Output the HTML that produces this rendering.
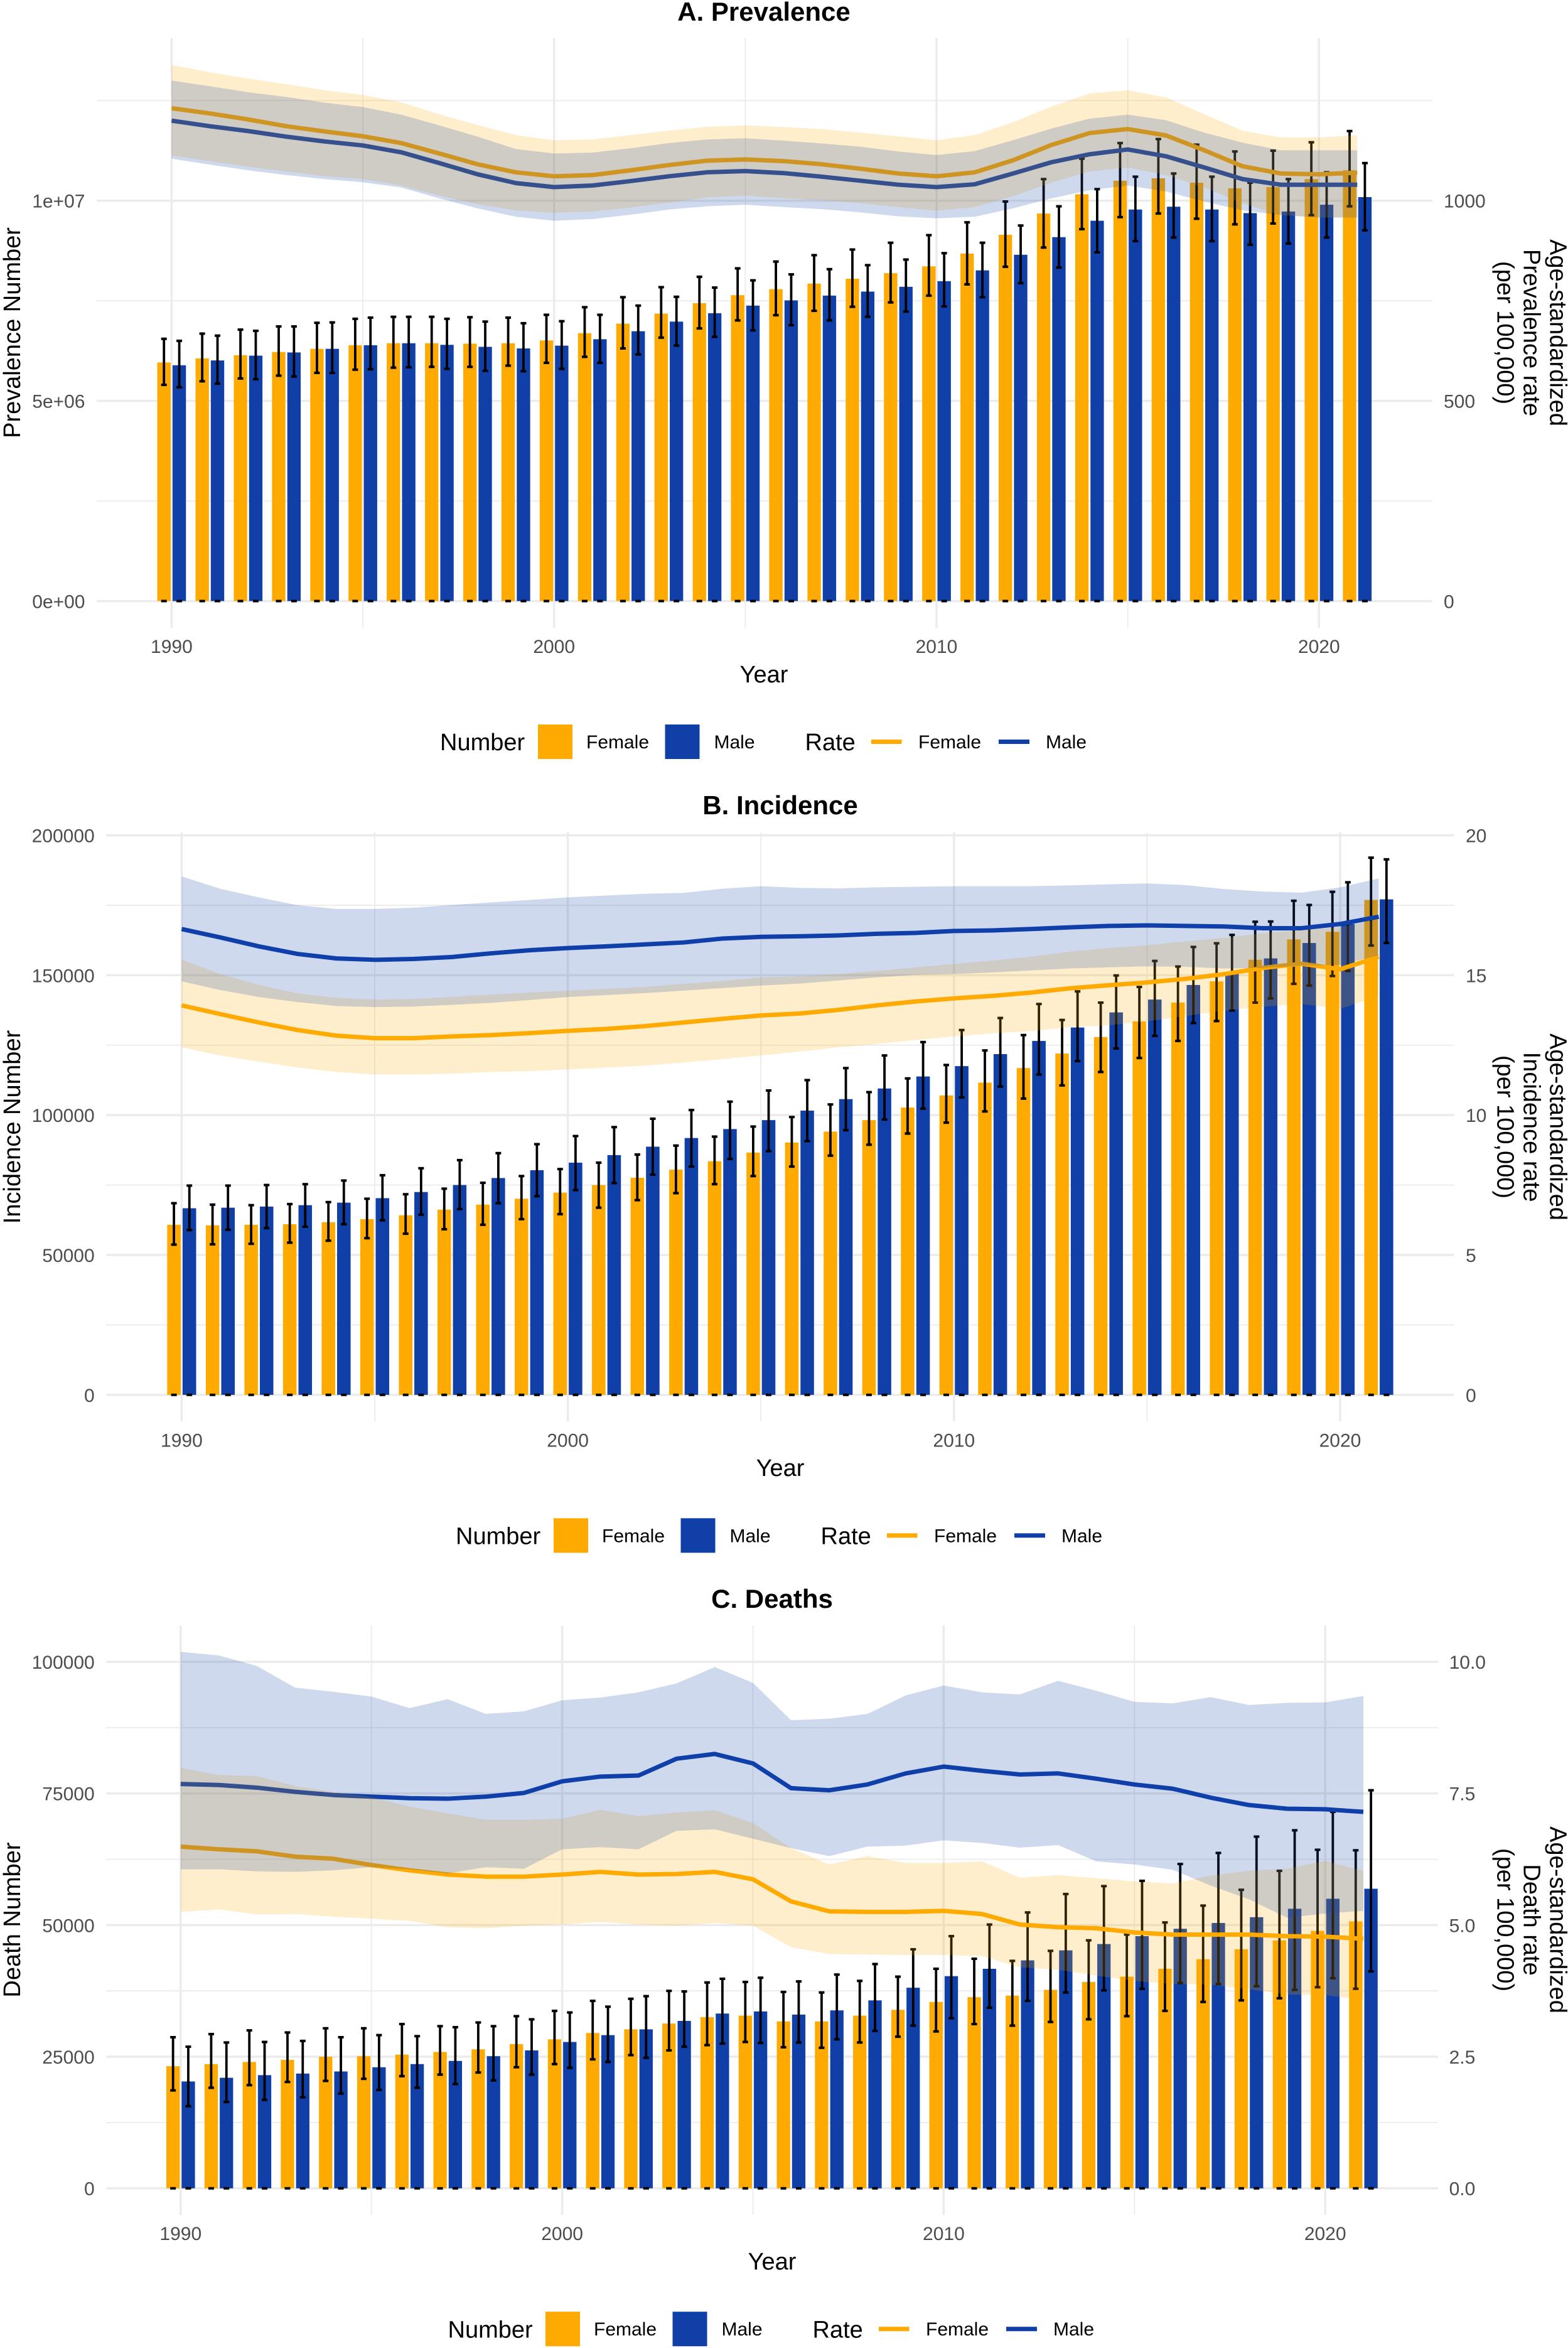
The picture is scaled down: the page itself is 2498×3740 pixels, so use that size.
<!DOCTYPE html>
<html>
<head>
<meta charset="utf-8">
<title>Prevalence, Incidence and Deaths</title>
<style>
html,body{margin:0;padding:0;background:#fff;}
svg{display:block;font-family:"Liberation Sans",Arial,sans-serif;}
.title{font-size:42px;font-weight:bold;fill:#000;text-anchor:middle;}
.axt{font-size:38px;fill:#000;text-anchor:middle;}
.lgt{font-size:38px;fill:#000;}
.lgl{font-size:30px;fill:#000;}
.tick{font-size:30px;fill:#4d4d4d;}
</style>
</head>
<body>
<svg id="chart" xmlns="http://www.w3.org/2000/svg" width="2498" height="3740" viewBox="0 0 2498 3740">
<rect x="0" y="0" width="2498" height="3740" fill="#fff"/>
<g id="panel-a"></g>
<g id="panel-b"></g>
<g id="panel-c"></g>

<text class="title" x="1217" y="33">A. Prevalence</text>
<text class="axt" transform="translate(32,530) rotate(-90)">Prevalence Number</text>
<text class="axt" transform="translate(2469.5,530) rotate(90)">Age-standardized</text>
<text class="axt" transform="translate(2427.5,530) rotate(90)">Prevalence rate</text>
<text class="axt" transform="translate(2385.5,530) rotate(90)">(per 100,000)</text>
<text class="axt" x="1217" y="1087">Year</text>
<g>
<text class="lgt" x="701" y="1195">Number</text>
<rect x="857" y="1154" width="55" height="55" fill="#FFAA00"/>
<text class="lgl" x="934" y="1192">Female</text>
<rect x="1059.5" y="1154" width="55" height="55" fill="#103FA8"/>
<text class="lgl" x="1137.5" y="1192">Male</text>
<text class="lgt" x="1282.5" y="1195">Rate</text>
<rect x="1388" y="1178" width="48.5" height="7" fill="#FFAA00"/>
<text class="lgl" x="1463" y="1192">Female</text>
<rect x="1591" y="1178" width="49" height="7" fill="#103FA8"/>
<text class="lgl" x="1666" y="1192">Male</text>
</g>

<text class="title" x="1243" y="1297">B. Incidence</text>
<text class="axt" transform="translate(32,1795) rotate(-90)">Incidence Number</text>
<text class="axt" transform="translate(2469.5,1795) rotate(90)">Age-standardized</text>
<text class="axt" transform="translate(2427.5,1795) rotate(90)">Incidence rate</text>
<text class="axt" transform="translate(2385.5,1795) rotate(90)">(per 100,000)</text>
<text class="axt" x="1243" y="2351">Year</text>
<g>
<text class="lgt" x="726" y="2459.5">Number</text>
<rect x="882" y="2418.3" width="55" height="55" fill="#FFAA00"/>
<text class="lgl" x="959" y="2456.3">Female</text>
<rect x="1084.5" y="2418.3" width="55" height="55" fill="#103FA8"/>
<text class="lgl" x="1162.5" y="2456.3">Male</text>
<text class="lgt" x="1307.5" y="2459.5">Rate</text>
<rect x="1413" y="2442.3" width="48.5" height="7" fill="#FFAA00"/>
<text class="lgl" x="1488" y="2456.3">Female</text>
<rect x="1616" y="2442.3" width="49" height="7" fill="#103FA8"/>
<text class="lgl" x="1691" y="2456.3">Male</text>
</g>

<text class="title" x="1230" y="2561">C. Deaths</text>
<text class="axt" transform="translate(32,3058) rotate(-90)">Death Number</text>
<text class="axt" transform="translate(2469.5,3058) rotate(90)">Age-standardized</text>
<text class="axt" transform="translate(2427.5,3058) rotate(90)">Death rate</text>
<text class="axt" transform="translate(2385.5,3058) rotate(90)">(per 100,000)</text>
<text class="axt" x="1230" y="3615">Year</text>
<g>
<text class="lgt" x="713.5" y="3723.4">Number</text>
<rect x="869" y="3682.2" width="55" height="55" fill="#FFAA00"/>
<text class="lgl" x="946" y="3720.2">Female</text>
<rect x="1071.5" y="3682.2" width="55" height="55" fill="#103FA8"/>
<text class="lgl" x="1149.5" y="3720.2">Male</text>
<text class="lgt" x="1294.5" y="3723.4">Rate</text>
<rect x="1400" y="3706.2" width="48.5" height="7" fill="#FFAA00"/>
<text class="lgl" x="1475" y="3720.2">Female</text>
<rect x="1603" y="3706.2" width="49" height="7" fill="#103FA8"/>
<text class="lgl" x="1678" y="3720.2">Male</text>
</g>
</svg>
<script>
const years = [1990,1991,1992,1993,1994,1995,1996,1997,1998,1999,2000,2001,2002,2003,2004,2005,2006,2007,2008,2009,2010,2011,2012,2013,2014,2015,2016,2017,2018,2019,2020,2021];
const xMajorTicks = [1990,2000,2010,2020];
const xMinorTicks = [1995,2005,2015];

// A. Prevalence: numbers in millions, rate per 100,000
const prevFemaleNumber = [5.96,6.06,6.14,6.22,6.30,6.39,6.44,6.44,6.43,6.44,6.51,6.69,6.93,7.18,7.44,7.64,7.79,7.93,8.05,8.19,8.36,8.68,9.15,9.68,10.16,10.50,10.56,10.45,10.31,10.34,10.54,10.76];
const prevFemaleHigh = [6.55,6.68,6.78,6.86,6.95,7.05,7.10,7.10,7.09,7.08,7.15,7.34,7.59,7.84,8.10,8.31,8.48,8.64,8.78,8.95,9.14,9.46,9.98,10.54,11.05,11.44,11.54,11.40,11.23,11.25,11.46,11.74];
const prevFemaleLow = [5.40,5.49,5.56,5.63,5.70,5.78,5.83,5.85,5.85,5.88,5.95,6.10,6.31,6.58,6.81,7.01,7.14,7.25,7.35,7.46,7.63,7.91,8.35,8.83,9.29,9.59,9.68,9.55,9.41,9.43,9.64,9.86];
const prevMaleNumber = [5.89,6.01,6.13,6.21,6.30,6.39,6.44,6.40,6.35,6.31,6.38,6.54,6.74,6.98,7.19,7.38,7.51,7.63,7.73,7.85,7.99,8.26,8.65,9.09,9.50,9.78,9.85,9.78,9.69,9.73,9.90,10.09];
const prevMaleHigh = [6.50,6.63,6.75,6.86,6.96,7.08,7.10,7.05,6.98,6.94,6.99,7.15,7.38,7.60,7.83,8.01,8.16,8.29,8.39,8.53,8.69,8.95,9.38,9.86,10.29,10.60,10.68,10.60,10.45,10.54,10.71,10.94];
const prevMaleLow = [5.34,5.43,5.54,5.61,5.70,5.79,5.84,5.80,5.75,5.74,5.80,5.95,6.16,6.38,6.60,6.76,6.89,7.01,7.10,7.23,7.36,7.59,7.94,8.33,8.71,8.99,9.08,8.99,8.90,8.93,9.08,9.26];
const prevFemaleRate = [1231,1218,1203,1186,1173,1161,1144,1118,1091,1071,1061,1064,1076,1089,1100,1103,1099,1091,1080,1068,1061,1071,1101,1139,1169,1179,1163,1126,1086,1068,1066,1070];
const prevFemaleRateHigh = [1339,1321,1305,1291,1276,1264,1246,1216,1189,1164,1151,1153,1164,1175,1185,1188,1184,1179,1170,1161,1151,1164,1196,1235,1268,1276,1258,1216,1175,1158,1158,1164];
const prevFemaleRateLow = [1113,1099,1085,1073,1061,1054,1038,1013,991,976,970,973,983,995,1008,1013,1006,1001,994,984,975,984,1011,1045,1073,1083,1064,1033,993,964,958,958];
const prevMaleRate = [1200,1186,1174,1160,1148,1138,1121,1094,1066,1044,1034,1038,1049,1061,1071,1074,1069,1060,1050,1040,1034,1041,1068,1096,1116,1128,1111,1083,1054,1040,1040,1040];
const prevMaleRateHigh = [1300,1286,1271,1259,1245,1234,1215,1188,1160,1129,1118,1120,1131,1144,1153,1156,1150,1143,1135,1123,1114,1124,1151,1180,1205,1215,1201,1170,1145,1126,1126,1126];
const prevMaleRateLow = [1105,1090,1076,1064,1054,1046,1033,1006,981,960,950,954,965,978,986,990,984,979,971,961,956,960,981,1006,1026,1038,1023,998,976,964,958,958];
const prevLeftTicks = [0,5,10];
const prevLeftLabels = ['0e+00','5e+06','1e+07'];
const prevMinorTicks = [2.5,7.5,12.5];
const prevRightTicks = [0,500,1000];
const prevRightLabels = ['0','500','1000'];

// B. Incidence: numbers in thousands, rate per 100,000
const incFemaleNumber = [60.8,60.6,60.8,61.0,61.7,62.8,64.2,66.2,68.0,70.1,72.3,75.0,77.6,80.5,83.5,86.6,90.2,94.1,98.2,102.7,107.0,111.6,116.8,122.0,127.9,133.5,140.2,147.8,155.5,162.8,165.5,176.9];
const incFemaleHigh = [68.5,68.0,67.8,68.2,68.9,70.1,71.7,73.7,75.8,78.2,80.7,83.0,85.9,89.1,92.3,95.9,99.3,103.8,108.2,113.1,117.9,123.1,128.6,134.0,140.2,145.8,153.1,161.4,169.1,176.6,179.8,192.0];
const incFemaleLow = [53.7,53.8,54.0,54.4,55.1,56.0,57.6,59.2,60.8,62.8,64.6,66.9,69.6,72.1,75.3,78.2,81.6,85.5,89.4,93.4,97.3,101.3,105.9,110.6,115.4,120.4,126.5,133.6,140.2,146.9,149.7,160.6];
const incMaleNumber = [66.7,66.9,67.3,67.8,68.7,70.3,72.5,75.0,77.5,80.3,83.0,85.7,88.7,91.8,95.0,98.2,101.6,105.7,109.5,113.8,117.5,121.8,126.5,131.3,136.7,141.3,146.5,150.6,156.0,161.5,168.3,177.1];
const incMaleHigh = [74.8,74.8,75.0,75.3,76.6,78.5,81.0,83.9,86.4,89.6,92.5,95.7,98.7,101.8,104.8,108.8,112.5,116.8,121.3,126.1,130.4,134.7,139.7,144.2,149.9,155.1,160.1,164.4,169.2,175.1,183.2,191.4];
const incMaleLow = [58.9,59.0,59.6,60.1,61.0,62.4,64.4,66.4,68.5,71.0,73.2,75.7,78.7,81.6,84.3,87.1,90.7,94.6,98.4,102.3,106.3,110.2,114.5,119.3,123.8,128.3,132.9,137.4,141.7,146.3,151.5,161.5];
const incFemaleRate = [13.92,13.61,13.31,13.04,12.84,12.75,12.75,12.81,12.86,12.93,13.01,13.08,13.18,13.31,13.44,13.56,13.63,13.76,13.92,14.06,14.17,14.26,14.38,14.53,14.64,14.74,14.87,15.04,15.26,15.41,15.21,15.66];
const incFemaleRateHigh = [15.56,15.04,14.65,14.35,14.19,14.13,14.15,14.22,14.31,14.38,14.45,14.51,14.58,14.69,14.79,14.92,14.96,15.04,15.15,15.28,15.40,15.52,15.66,15.84,15.97,16.07,16.21,16.33,16.50,16.61,16.72,16.98];
const incFemaleRateLow = [12.42,12.13,11.91,11.70,11.54,11.45,11.45,11.48,11.54,11.57,11.63,11.70,11.77,11.88,12.00,12.13,12.27,12.42,12.54,12.68,12.81,12.92,13.00,13.14,13.21,13.35,13.54,13.73,13.88,13.97,13.80,14.25];
const incMaleRate = [16.65,16.35,16.03,15.76,15.60,15.55,15.58,15.65,15.78,15.89,15.97,16.03,16.10,16.17,16.31,16.37,16.39,16.42,16.48,16.51,16.58,16.60,16.65,16.71,16.76,16.78,16.76,16.74,16.68,16.68,16.83,17.09];
const incMaleRateHigh = [18.53,18.09,17.78,17.50,17.37,17.37,17.41,17.51,17.60,17.69,17.78,17.85,17.91,17.94,18.09,18.18,18.12,18.10,18.14,18.16,18.18,18.18,18.18,18.21,18.25,18.28,18.22,18.08,17.99,17.95,18.14,18.46];
const incMaleRateLow = [14.78,14.47,14.22,14.04,13.90,13.86,13.88,13.94,14.01,14.11,14.22,14.29,14.36,14.45,14.54,14.63,14.70,14.81,14.92,15.01,15.04,15.10,15.17,15.24,15.28,15.32,15.30,15.24,15.26,15.34,15.37,15.71];
const incLeftTicks = [0,50,100,150,200];
const incLeftLabels = ['0','50000','100000','150000','200000'];
const incMinorTicks = [25,75,125,175];
const incRightTicks = [0,5,10,15,20];
const incRightLabels = ['0','5','10','15','20'];

// C. Deaths: numbers in thousands, rate per 100,000
const deathFemaleNumber = [23.2,23.6,24.0,24.4,25.0,25.1,25.4,25.9,26.4,27.4,28.3,29.5,30.2,31.3,32.5,32.8,31.7,31.7,32.8,33.9,35.4,36.3,36.6,37.7,39.2,40.2,41.7,43.5,45.4,47.1,48.9,50.7];
const deathFemaleHigh = [28.7,29.3,30.0,29.6,30.4,30.4,31.2,30.8,31.5,32.7,33.7,35.6,36.0,37.5,39.1,39.2,37.3,37.2,39.4,40.2,41.7,43.6,43.2,45.1,47.1,48.2,50.5,53.7,56.7,60.3,64.3,64.2];
const deathFemaleLow = [18.6,19.1,19.6,20.2,20.4,20.8,21.3,21.6,22.0,23.0,23.6,24.5,25.3,26.2,27.2,27.8,26.8,26.7,27.7,28.8,29.8,31.2,30.9,31.6,32.1,32.7,33.7,35.4,35.7,36.1,38.2,37.9];
const deathMaleNumber = [20.3,21.0,21.5,21.8,22.2,23.0,23.6,24.2,25.1,26.2,27.8,29.1,30.2,31.8,33.2,33.6,33.0,33.8,35.7,38.1,40.3,41.7,43.3,45.2,46.4,47.9,49.3,50.4,51.5,53.1,55.0,56.9];
const deathMaleHigh = [26.9,27.7,27.8,28.0,28.7,29.1,28.9,30.6,30.8,32.1,33.4,34.5,36.5,37.4,39.8,40.0,39.3,40.6,42.6,45.4,47.9,50.1,52.4,55.9,57.4,58.4,61.6,63.7,66.8,68.0,71.5,75.6];
const deathMaleLow = [15.6,16.4,16.8,17.3,18.0,18.7,19.1,19.8,20.5,21.6,22.9,24.0,24.8,26.9,27.5,27.6,27.7,28.3,29.9,30.9,32.3,34.3,35.6,37.2,37.6,37.9,39.0,38.8,38.4,37.7,39.9,41.2];
const deathFemaleRate = [6.49,6.44,6.40,6.30,6.26,6.14,6.04,5.96,5.92,5.92,5.96,6.01,5.96,5.97,6.01,5.87,5.45,5.26,5.25,5.25,5.27,5.21,5.01,4.96,4.94,4.86,4.82,4.82,4.82,4.79,4.78,4.74];
const deathFemaleRateHigh = [7.99,7.85,7.83,7.64,7.53,7.43,7.25,7.12,7.00,7.00,7.02,7.19,7.07,7.14,7.18,6.94,6.46,6.15,6.31,6.18,6.18,6.21,5.90,5.95,5.89,5.83,5.79,5.94,6.03,6.07,6.22,6.03];
const deathFemaleRateLow = [5.25,5.30,5.20,5.21,5.16,5.12,5.08,4.96,4.94,4.99,5.01,5.06,5.01,4.99,5.04,4.99,4.58,4.45,4.44,4.43,4.43,4.41,4.20,4.15,4.04,3.94,3.88,3.87,3.78,3.68,3.67,3.58];
const deathMaleRate = [7.68,7.66,7.61,7.53,7.47,7.44,7.41,7.40,7.44,7.51,7.73,7.82,7.84,8.16,8.25,8.07,7.60,7.56,7.67,7.88,8.01,7.93,7.86,7.88,7.78,7.67,7.59,7.42,7.28,7.21,7.20,7.15];
const deathMaleRateHigh = [10.19,10.12,9.92,9.51,9.43,9.34,9.12,9.29,9.01,9.06,9.27,9.32,9.42,9.59,9.90,9.60,8.89,8.92,9.01,9.36,9.55,9.42,9.38,9.64,9.45,9.24,9.21,9.33,9.18,9.22,9.23,9.35];
const deathMaleRateLow = [6.06,6.06,6.02,6.01,6.04,6.10,6.06,5.98,6.10,6.07,6.44,6.48,6.44,6.79,6.82,6.64,6.46,6.31,6.49,6.51,6.61,6.56,6.47,6.52,6.21,6.15,6.05,5.75,5.49,5.14,5.22,5.27];
const deathLeftTicks = [0,25,50,75,100];
const deathLeftLabels = ['0','25000','50000','75000','100000'];
const deathMinorTicks = [12.5,37.5,62.5,87.5];
const deathRightTicks = [0,2.5,5,7.5,10];
const deathRightLabels = ['0.0','2.5','5.0','7.5','10.0'];

const ORANGE = '#FFAA00';
const BLUE = '#103FA8';
const NS = 'http://www.w3.org/2000/svg';

function mk(tag, attrs, parent) {
  const node = document.createElementNS(NS, tag);
  for (const k in attrs) node.setAttribute(k, attrs[k]);
  parent.appendChild(node);
  return node;
}

function drawPanel(p) {
  const root = document.getElementById(p.root);
  const x = yr => p.x1990 + (yr - 1990) * p.pxPerYear;
  const yL = v => p.yZero - v * p.pxPerLeft;
  const yR = v => p.yZero - v * p.pxPerRight;
  let el;

  p.minorY.forEach(v => {
    el = mk('line', {x1:p.left, x2:p.right, y1:yL(v), y2:yL(v), stroke:'#ebebeb', 'stroke-width':1.8}, root);
    
    
  });
  xMinorTicks.forEach(v => {
    el = mk('line', {x1:x(v), x2:x(v), y1:p.top, y2:p.bottom, stroke:'#ebebeb', 'stroke-width':1.8}, root);
    
    
  });
  p.leftTicks.forEach((v, i) => {
    el = mk('line', {x1:p.left, x2:p.right, y1:yL(v), y2:yL(v), stroke:'#ebebeb', 'stroke-width':3.4}, root);
    
    
    el = mk('text', {x:p.leftLabelX, y:yL(v) + 11, class:'tick', 'text-anchor':'end'}, root);
    el.textContent = p.leftLabels[i];
    
    
  });
  p.rightTicks.forEach((v, i) => {
    el = mk('text', {x:p.rightLabelX, y:yR(v) + 11, class:'tick'}, root);
    el.textContent = p.rightLabels[i];
    
    
  });
  xMajorTicks.forEach(v => {
    el = mk('line', {x1:x(v), x2:x(v), y1:p.top, y2:p.bottom, stroke:'#ebebeb', 'stroke-width':3.4}, root);
    
    
    el = mk('text', {x:x(v), y:p.xLabelY, class:'tick', 'text-anchor':'middle'}, root);
    el.textContent = String(v);
    
    
  });

  const off = 0.2 * p.pxPerYear;
  const bw = 0.35 * p.pxPerYear;
  const capW = 9;
  const capH = 4;
  const stem = 3.8;

  function series(values, high, low, dir, color, sex) {
    years.forEach((yr, i) => {
      const cx = x(yr) + dir * off;
      el = mk('rect', {x:cx - bw / 2, y:yL(values[i]), width:bw, height:p.yZero - yL(values[i]), fill:color}, root);
      
      
    });
  }
  function errors(values, high, low, dir, sex) {
    years.forEach((yr, i) => {
      const cx = x(yr) + dir * off;
      el = mk('line', {x1:cx, x2:cx, y1:yL(high[i]), y2:yL(low[i]), stroke:'#000', 'stroke-width':stem}, root);
      
      
      el = mk('line', {x1:cx - capW / 2, x2:cx + capW / 2, y1:yL(high[i]), y2:yL(high[i]), stroke:'#000', 'stroke-width':capH}, root);
      
      
      el = mk('line', {x1:cx - capW / 2, x2:cx + capW / 2, y1:yL(low[i]), y2:yL(low[i]), stroke:'#000', 'stroke-width':capH}, root);
      
      
      el = mk('line', {x1:cx - capW / 2, x2:cx + capW / 2, y1:p.yZero, y2:p.yZero, stroke:'#000', 'stroke-width':capH}, root);
      
      
    });
  }
  series(p.fNum, p.fHigh, p.fLow, -1, ORANGE, 'female');
  series(p.mNum, p.mHigh, p.mLow, 1, BLUE, 'male');
  errors(p.fNum, p.fHigh, p.fLow, -1, 'female');
  errors(p.mNum, p.mHigh, p.mLow, 1, 'male');

  function rateLine(values, color, sex) {
    const pts = years.map((yr, i) => x(yr) + ',' + yR(values[i])).join(' ');
    el = mk('polyline', {points:pts, fill:'none', stroke:color, 'stroke-width':7, 'stroke-linejoin':'round'}, root);
    
    
  }
  function ribbon(high, low, color, sex) {
    const up = years.map((yr, i) => x(yr) + ',' + yR(high[i]));
    const dn = years.map((yr, i) => x(yr) + ',' + yR(low[i])).reverse();
    el = mk('polygon', {points:up.concat(dn).join(' '), fill:color, 'fill-opacity':0.2}, root);
    
    
  }
  rateLine(p.fRate, ORANGE, 'female');
  rateLine(p.mRate, BLUE, 'male');
  ribbon(p.fRateHigh, p.fRateLow, ORANGE, 'female');
  ribbon(p.mRateHigh, p.mRateLow, BLUE, 'male');
}

drawPanel({root:'panel-a', left:154, right:2282, top:60.6, bottom:1000.5, yZero:957.4, pxPerLeft:63.77, pxPerRight:0.6377, x1990:273.4, pxPerYear:60.93, leftLabelX:135.5, rightLabelX:2300, xLabelY:1040,
  minorY:prevMinorTicks, leftTicks:prevLeftTicks, leftLabels:prevLeftLabels, rightTicks:prevRightTicks, rightLabels:prevRightLabels,
  fNum:prevFemaleNumber, fHigh:prevFemaleHigh, fLow:prevFemaleLow, mNum:prevMaleNumber, mHigh:prevMaleHigh, mLow:prevMaleLow,
  fRate:prevFemaleRate, fRateHigh:prevFemaleRateHigh, fRateLow:prevFemaleRateLow, mRate:prevMaleRate, mRateHigh:prevMaleRateHigh, mRateLow:prevMaleRateLow});

drawPanel({root:'panel-b', left:169, right:2316.6, top:1325.7, bottom:2264, yZero:2221.8, pxPerLeft:4.4565, pxPerRight:44.565, x1990:289.4, pxPerYear:61.52, leftLabelX:150.7, rightLabelX:2335, xLabelY:2304.4,
  minorY:incMinorTicks, leftTicks:incLeftTicks, leftLabels:incLeftLabels, rightTicks:incRightTicks, rightLabels:incRightLabels,
  fNum:incFemaleNumber, fHigh:incFemaleHigh, fLow:incFemaleLow, mNum:incMaleNumber, mHigh:incMaleHigh, mLow:incMaleLow,
  fRate:incFemaleRate, fRateHigh:incFemaleRateHigh, fRateLow:incFemaleRateLow, mRate:incMaleRate, mRateHigh:incMaleRateHigh, mRateLow:incMaleRateLow});

drawPanel({root:'panel-c', left:169, right:2291, top:2588.9, bottom:3528, yZero:3485.7, pxPerLeft:8.387, pxPerRight:83.87, x1990:287.8, pxPerYear:60.78, leftLabelX:150.7, rightLabelX:2308.6, xLabelY:3568,
  minorY:deathMinorTicks, leftTicks:deathLeftTicks, leftLabels:deathLeftLabels, rightTicks:deathRightTicks, rightLabels:deathRightLabels,
  fNum:deathFemaleNumber, fHigh:deathFemaleHigh, fLow:deathFemaleLow, mNum:deathMaleNumber, mHigh:deathMaleHigh, mLow:deathMaleLow,
  fRate:deathFemaleRate, fRateHigh:deathFemaleRateHigh, fRateLow:deathFemaleRateLow, mRate:deathMaleRate, mRateHigh:deathMaleRateHigh, mRateLow:deathMaleRateLow});
</script>
</body>
</html>
